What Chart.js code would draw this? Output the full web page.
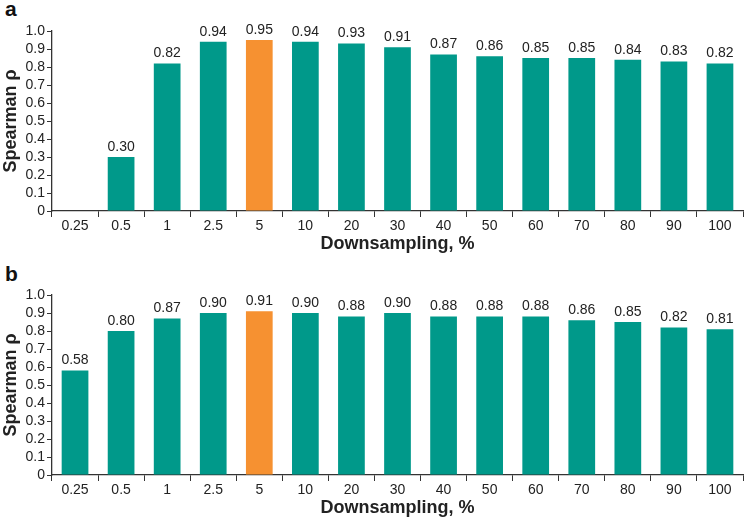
<!DOCTYPE html>
<html>
<head>
<meta charset="utf-8">
<script src="https://cdn.jsdelivr.net/npm/chart.js@4.4.1/dist/chart.umd.min.js"></script>
<style>
  body { margin: 0; background: #fff; width: 744px; height: 522px; position: relative; overflow: hidden; }
  .panel { position: absolute; left: 0; width: 744px; height: 258px; }
  .tag { position: absolute; left: 5px; font: bold 21px "Liberation Sans", Arial, sans-serif; color: #111; }
</style>
</head>
<body>
<div class="tag" style="top:-3px">a</div>
<div class="tag" style="top:262px">b</div>
<div class="panel" style="top:0"><canvas id="chartA"></canvas></div>
<div class="panel" style="top:264px"><canvas id="chartB"></canvas></div>
<script>
// categories (downsampling %)
const categories = ['0.25', '0.5', '1', '2.5', '5', '10', '20', '30', '40', '50', '60', '70', '80', '90', '100'];
// panel a : Spearman rho (no bar at 0.25)
const valuesA = [null, 0.30, 0.82, 0.94, 0.95, 0.94, 0.93, 0.91, 0.87, 0.86, 0.85, 0.85, 0.84, 0.83, 0.82];
// panel b
const valuesB = [0.58, 0.80, 0.87, 0.90, 0.91, 0.90, 0.88, 0.90, 0.88, 0.88, 0.88, 0.86, 0.85, 0.82, 0.81];
const highlight = '5';
const yTicks = [0, 0.1, 0.2, 0.3, 0.4, 0.5, 0.6, 0.7, 0.8, 0.9, 1.0];

const teal = '#00998a';
const orange = '#f69131';
const txt = '#222';
const axisCol = '#333';
const fam = '"Liberation Sans", Arial, Helvetica, sans-serif';

// etiquettes de valeur au dessus des barres
const valueLabels = {
    id: 'valueLabels',
    afterDatasetsDraw(chart) {
        const ctx = chart.ctx;
        const meta = chart.getDatasetMeta(0);
        ctx.save();
        ctx.font = '14px ' + fam;
        ctx.fillStyle = txt;
        ctx.textAlign = 'center';
        ctx.textBaseline = 'bottom';
        meta.data.forEach((bar, i) => {
            const v = chart.data.datasets[0].data[i];
            if (v === null) return;
            ctx.fillText(v.toFixed(2), bar.x, bar.y - 3);
        });
        ctx.restore();
    }
};

function makeChart(id, values) {
    const ctx = document.getElementById(id).getContext('2d');
    return new Chart(ctx, {
        type: 'bar',
        data: {
            labels: categories,
            datasets: [{
                data: values,
                backgroundColor: categories.map(c => c === highlight ? orange : teal),
                borderWidth: 0,
                categoryPercentage: 1,
                barPercentage: 0.58
            }]
        },
        options: {
            responsive: true,
            maintainAspectRatio: false,
            animation: false,
            layout: { padding: { top: 31, right: 1, left: 0, bottom: 3 } },
            plugins: { legend: { display: false }, tooltip: { enabled: false } },
            scales: {
                x: {
                    grid: { display: true, drawOnChartArea: false, offset: true, color: axisCol, tickLength: 6 },
                    border: { display: true, color: axisCol, width: 1.3 },
                    ticks: { color: txt, font: { family: fam, size: 14 }, padding: 1, maxRotation: 0, autoSkip: false },
                    title: { display: true, text: 'Downsampling, %', color: txt, font: { family: fam, size: 18, weight: 'bold' }, padding: { top: 0, bottom: 0 } },
                    afterFit: (s) => { s.height = 44; }
                },
                y: {
                    min: 0,
                    max: 1.0,
                    afterBuildTicks: (s) => { s.ticks = yTicks.map(v => ({ value: v })); },
                    grid: { display: true, drawOnChartArea: false, color: axisCol, tickLength: 5 },
                    border: { display: true, color: axisCol, width: 1.3 },
                    ticks: {
                        color: txt, font: { family: fam, size: 14 }, padding: 2, autoSkip: false,
                        callback: (v) => v === 0 ? '0' : v.toFixed(1)
                    },
                    title: { display: true, text: 'Spearman ρ', color: txt, font: { family: fam, size: 18, weight: 'bold' }, padding: { top: 0, bottom: 2 } },
                    afterFit: (s) => { s.width = 52; }
                }
            }
        },
        plugins: [valueLabels]
    });
}

makeChart('chartA', valuesA);
makeChart('chartB', valuesB);
</script>
</body>
</html>
